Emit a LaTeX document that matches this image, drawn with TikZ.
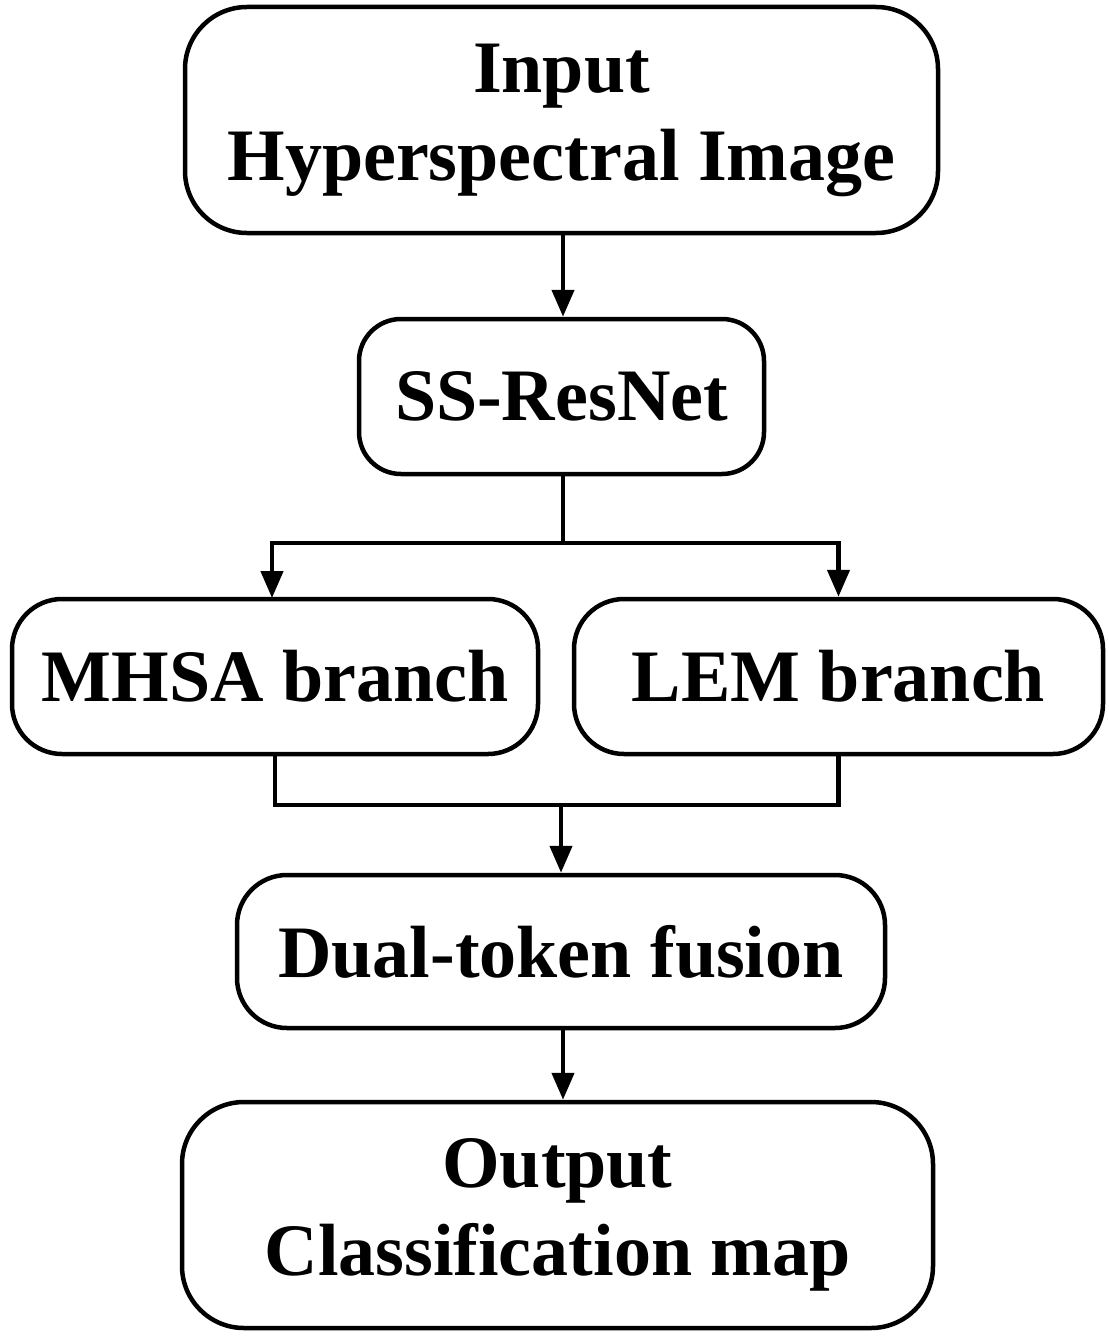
\documentclass[tikz,border=0pt]{standalone}
\usepackage{fontspec}
\setmainfont{Liberation Serif}
\usetikzlibrary{arrows.meta}

\tikzset{
    box/.style={draw,line width=4.5pt,rounded corners=50pt,align=center,
        font=\fontsize{74}{88}\selectfont\bfseries,inner sep=0pt},
    link/.style={line width=4.5pt},
    arrow/.style={link,-{Triangle[length=27pt,width=22pt]}}
}

\begin{document}
\begin{tikzpicture}[x=1pt,y=-1pt]
    \useasboundingbox (0,0) rectangle (1108,1338);
    % boxes
    \node[box,minimum width=753pt,minimum height=226pt,rounded corners=62pt] (inp) at (561.5,120) {Input\\Hyperspectral Image};
    \node[box,minimum width=405pt,minimum height=155pt,rounded corners=42pt] (res) at (561.5,396.5) {SS-ResNet};
    \node[box,minimum width=526pt,minimum height=155pt] (mhsa) at (275,676.5) {MHSA branch};
    \node[box,minimum width=529pt,minimum height=155pt] (lem) at (838.5,676.5) {LEM branch};
    \node[box,minimum width=648pt,minimum height=153pt] (fus) at (561,951.5) {Dual-token fusion};
    \node[box,minimum width=751pt,minimum height=226pt,rounded corners=62pt] (out) at (557.5,1215) {Output\\Classification map};
    % connectors
    \coordinate (split) at (563,543);
    \coordinate (join) at (561,805);
    \draw[arrow] (inp.south -| split) -- (res.north -| split);
    \draw[link] (res.south -| split) -- (split);
    \draw[arrow] (split) -| (272,598);
    \draw[arrow] (split) -| (lem.north);
    \draw[link] (mhsa.south) |- (join);
    \draw[link] (lem.south) |- (join);
    \draw[arrow] (join) -- (fus.north);
    \draw[arrow] (fus.south -| split) -- (out.north -| split);
\end{tikzpicture}
\end{document}
